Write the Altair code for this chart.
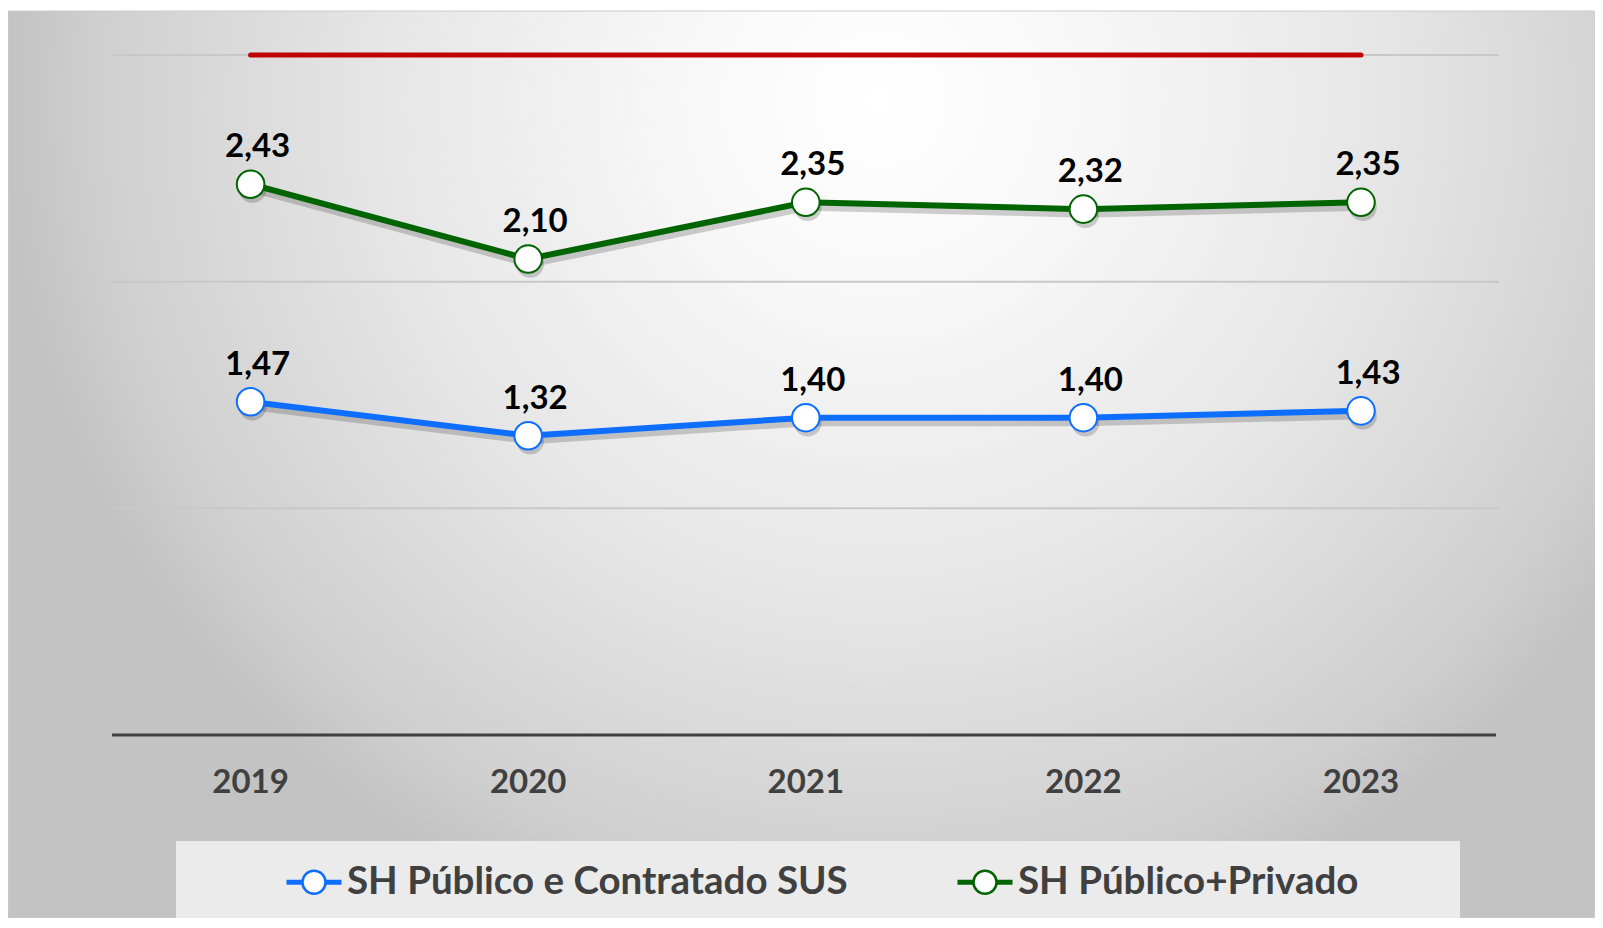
import altair as alt
import pandas as pd

# ---- data ----
years = [2019, 2020, 2021, 2022, 2023]
sus = [1.47, 1.32, 1.40, 1.40, 1.43]
total = [2.43, 2.10, 2.35, 2.32, 2.35]
param = [3.0, 3.0, 3.0, 3.0, 3.0]
series_names = ["SH Público e Contratado SUS", "SH Público+Privado"]
series_colors = ["#0D6EFF", "#006400"]
grid_values = [1, 2, 3]

df = pd.DataFrame({
    "ano": years * 2,
    "valor": sus + total,
    "serie": [series_names[0]] * len(years) + [series_names[1]] * len(years),
})
df_param = pd.DataFrame({"ano": years, "valor": param})
df_grid = pd.DataFrame({"valor": grid_values})
df_axis = pd.DataFrame({"valor": [0]})
df_years = pd.DataFrame({"ano": years})
df_one = pd.DataFrame({"k": [0]})

W, H = 1587, 907
xs = alt.Scale(domain=[2018.1261, 2023.8430], nice=False, zero=False)
ys = alt.Scale(domain=[-0.8073, 3.1941], nice=False, zero=False)
X = alt.X("ano:Q", scale=xs, axis=None)
Y = alt.Y("valor:Q", scale=ys, axis=None)

gradient = {
    "gradient": "radial",
    "x1": 0.55, "y1": 0.27, "r1": 0,
    "x2": 0.55, "y2": 0.27, "r2": 0.55,
    "stops": [
        {"offset": 0, "color": "#ffffff"},
        {"offset": 0.2, "color": "#f9f9f9"},
        {"offset": 0.575, "color": "#e6e6e6"},
        {"offset": 0.9, "color": "#cfcfcf"},
        {"offset": 1, "color": "#c3c3c3"},
    ],
}

bg = alt.Chart(df_one).mark_rect(fill=gradient, stroke="#cccccc", strokeWidth=1).encode(
    x=alt.value(0), x2=alt.value(W), y=alt.value(0), y2=alt.value(H)
)

grid = alt.Chart(df_grid).mark_rule(color="#c8c8c8", strokeWidth=2).encode(
    y=Y, x=alt.value(104), x2=alt.value(1491)
)

axis_line = alt.Chart(df_axis).mark_rule(color="#404040", strokeWidth=3).encode(
    y=Y, x=alt.value(104), x2=alt.value(1488)
)

ref_line = alt.Chart(df_param).mark_line(color="#C00000", strokeWidth=5, strokeCap="round").encode(
    x=X, y=Y
)

PATH = ("M-1,-0.045L-0.42,-0.045M-1,0.045L-0.42,0.045"
        "M0.42,-0.045L1,-0.045M0.42,0.045L1,0.045"
        "M-0.42,0A0.42,0.42,0,1,1,0.42,0A0.42,0.42,0,1,1,-0.42,0Z")

legend = alt.Legend(
    title=None, orient="none", legendX=277, legendY=842, direction="horizontal",
    symbolType=PATH, symbolSize=3025, symbolStrokeWidth=2.5, symbolFillColor="white",
    labelFont="Lato", labelFontSize=38.5, labelFontWeight="bold", labelColor="#404040",
    labelOffset=4, columnPadding=104, labelLimit=1000, symbolOpacity=1,
)
stroke = alt.Stroke("serie:N", scale=alt.Scale(domain=series_names, range=series_colors), legend=legend)

base = alt.Chart(df)

shadow_line = base.mark_line(color="#000000", opacity=0.18, strokeWidth=7, yOffset=5, xOffset=2).encode(
    x=X, y=Y, detail="serie:N"
)
shadow_pts = base.mark_circle(color="#000000", opacity=0.18, size=760, yOffset=5, xOffset=2).encode(
    x=X, y=Y
)

lines = base.mark_line(strokeWidth=6).encode(x=X, y=Y, stroke=stroke)
pts = base.mark_point(shape="circle", fill="white", fillOpacity=1, opacity=1, strokeWidth=2, size=760).encode(
    x=X, y=Y, stroke=stroke
)
labels = base.transform_calculate(
    lbl="replace(format(datum.valor, '.2f'), '.', ',')"
).mark_text(font="Lato", fontSize=33, fontWeight="bold", color="#000000", dx=7, dy=-37,
            baseline="middle", align="center").encode(x=X, y=Y, text="lbl:N")

year_labels = alt.Chart(df_years).transform_calculate(
    t="format(datum.ano, 'd')"
).mark_text(font="Lato", fontSize=33, fontWeight="bold", color="#404040", baseline="middle",
            align="center").encode(x=X, y=alt.value(772), text="t:N")

legend_box = alt.Chart(df_one).mark_rect(fill="#ebebeb").encode(
    x=alt.value(168), x2=alt.value(1452), y=alt.value(830), y2=alt.value(911)
)

chart = alt.layer(
    bg, grid, ref_line, shadow_line, shadow_pts, lines, pts, labels, year_labels, axis_line, legend_box
).properties(
    width=W, height=H,
    autosize=alt.AutoSizeParams(type="none"),
    padding={"left": 0, "top": 3, "right": 0, "bottom": 0},
    background="white",
).configure_view(stroke=None)

chart.save("out.html", embed_options={"renderer": "svg", "actions": False})
